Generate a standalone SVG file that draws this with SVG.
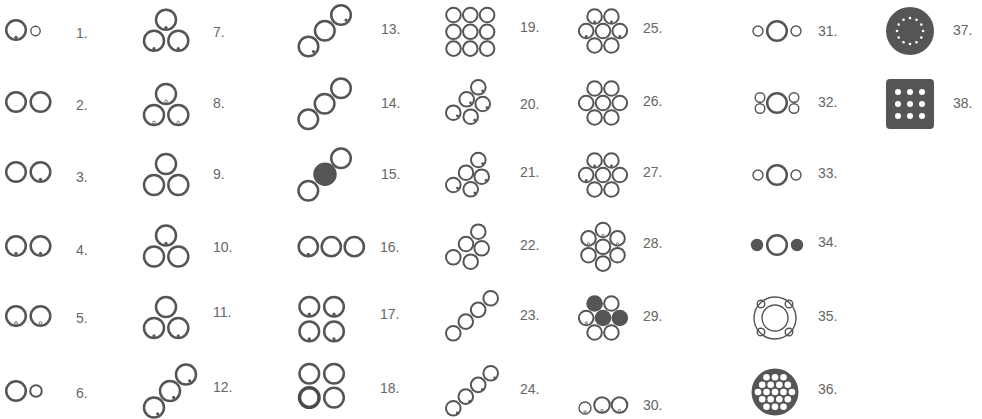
<svg xmlns="http://www.w3.org/2000/svg" width="982" height="419" viewBox="0 0 982 419">
<style>
.c{fill:none;stroke:#555;stroke-width:2.5}
.m{fill:none;stroke:#555;stroke-width:2}
.sm{fill:none;stroke:#555;stroke-width:1.4}
.d{fill:#555}
.h{fill:#fff;stroke:#555;stroke-width:0.8}
.f{fill:#555}
.w{fill:#fff}
.t{font-family:"Liberation Sans",Arial,sans-serif;font-size:14px;fill:#666}
</style>
<rect width="982" height="419" fill="#fff"/>
<g id="n1"><circle class="c" cx="16" cy="30" r="9.8"/><circle class="sm" cx="35.5" cy="31" r="4.7"/><circle class="d" cx="16" cy="37.3" r="1.6"/><text class="t" x="76" y="37.5">1.</text></g>
<g id="n2"><circle class="c" cx="16" cy="102" r="9.8"/><circle class="c" cx="40.5" cy="102" r="9.8"/><text class="t" x="76" y="110">2.</text></g>
<g id="n3"><circle class="c" cx="16" cy="172" r="9.8"/><circle class="c" cx="40.5" cy="172" r="9.8"/><circle class="d" cx="40.5" cy="179.3" r="1.6"/><text class="t" x="76" y="181.5">3.</text></g>
<g id="n4"><circle class="c" cx="16" cy="246" r="9.8"/><circle class="c" cx="40.5" cy="246" r="9.8"/><circle class="d" cx="16" cy="253.3" r="1.6"/><circle class="d" cx="40.5" cy="253.3" r="1.6"/><text class="t" x="76" y="255">4.</text></g>
<g id="n5"><circle class="c" cx="16" cy="316" r="9.8"/><circle class="c" cx="40.5" cy="316" r="9.8"/><circle class="h" cx="16" cy="323" r="1.4"/><circle class="h" cx="40.5" cy="323" r="1.4"/><text class="t" x="76" y="323">5.</text></g>
<g id="n6"><circle class="c" cx="16" cy="391" r="9.8"/><circle class="m" cx="36" cy="391" r="5.8"/><text class="t" x="76" y="398">6.</text></g>

<g id="n7"><circle class="c" cx="166" cy="19.7" r="10"/><circle class="c" cx="154" cy="40.7" r="10"/><circle class="c" cx="178.3" cy="40.7" r="10"/><circle class="d" cx="166" cy="27.6" r="1.6"/><circle class="d" cx="154" cy="48.6" r="1.6"/><circle class="d" cx="178.3" cy="48.6" r="1.6"/><text class="t" x="213" y="36.5">7.</text></g>
<g id="n8"><circle class="c" cx="166" cy="94" r="10"/><circle class="c" cx="154" cy="115" r="10"/><circle class="c" cx="178.3" cy="115" r="10"/><circle class="h" cx="166" cy="101.5" r="1.4"/><circle class="h" cx="154" cy="122.5" r="1.4"/><circle class="h" cx="178.3" cy="122.5" r="1.4"/><text class="t" x="213" y="108">8.</text></g>
<g id="n9"><circle class="c" cx="166" cy="164" r="10"/><circle class="c" cx="154" cy="185" r="10"/><circle class="c" cx="178.3" cy="185" r="10"/><text class="t" x="213" y="178.5">9.</text></g>
<g id="n10"><circle class="c" cx="166" cy="235.5" r="10"/><circle class="c" cx="154" cy="256.5" r="10"/><circle class="c" cx="178.3" cy="256.5" r="10"/><circle class="d" cx="166" cy="243.4" r="1.6"/><text class="t" x="213" y="251.5">10.</text></g>
<g id="n11"><circle class="c" cx="166" cy="307" r="10"/><circle class="c" cx="154" cy="328" r="10"/><circle class="c" cx="178.3" cy="328" r="10"/><circle class="d" cx="154" cy="335.9" r="1.6"/><circle class="d" cx="178.3" cy="335.9" r="1.6"/><text class="t" x="213" y="316.5">11.</text></g>
<g id="n12"><circle class="c" cx="154" cy="407.5" r="10"/><circle class="c" cx="170" cy="391" r="10"/><circle class="c" cx="186" cy="374.5" r="10"/><circle class="d" cx="157.7" cy="413.9" r="1.6"/><circle class="d" cx="173.7" cy="397.4" r="1.6"/><circle class="d" cx="189.7" cy="380.9" r="1.6"/><text class="t" x="213" y="391.5">12.</text></g>

<g id="n13"><circle class="c" cx="308.5" cy="46.5" r="9.8"/><circle class="c" cx="324.8" cy="30.8" r="9.8"/><circle class="c" cx="341" cy="15" r="9.8"/><circle class="d" cx="313.5" cy="51.5" r="1.6"/><circle class="d" cx="346" cy="20" r="1.6"/><text class="t" x="381" y="33.5">13.</text></g>
<g id="n14"><circle class="c" cx="308.3" cy="119.3" r="9.8"/><circle class="c" cx="324.6" cy="103.8" r="9.8"/><circle class="c" cx="341" cy="88.3" r="9.8"/><text class="t" x="381" y="107.5">14.</text></g>
<g id="n15"><circle class="c" cx="308.3" cy="190.7" r="9.8"/><circle class="f" cx="325" cy="174.3" r="11.7"/><circle class="c" cx="341" cy="158.3" r="9.8"/><text class="t" x="381" y="178.5">15.</text></g>
<g id="n16"><circle class="c" cx="308.3" cy="246.7" r="9.6"/><circle class="c" cx="331.3" cy="246.7" r="9.6"/><circle class="c" cx="354.3" cy="246.7" r="9.6"/><circle class="d" cx="308.3" cy="254.3" r="1.6"/><text class="t" x="380" y="251.5">16.</text></g>
<g id="n17"><circle class="c" cx="309.3" cy="306.7" r="9.8"/><circle class="c" cx="334" cy="306.7" r="9.8"/><circle class="c" cx="309.3" cy="331.4" r="9.8"/><circle class="c" cx="334" cy="331.4" r="9.8"/><circle class="d" cx="309.3" cy="314.2" r="1.6"/><circle class="d" cx="334" cy="314.2" r="1.6"/><circle class="d" cx="309.3" cy="338.9" r="1.6"/><circle class="d" cx="334" cy="338.9" r="1.6"/><text class="t" x="380" y="318.5">17.</text></g>
<g id="n18"><circle class="c" cx="309.3" cy="373.7" r="9.8"/><circle class="c" cx="334" cy="373.7" r="9.8"/><circle class="c" cx="309.3" cy="397.6" r="9.8" style="stroke-width:3.4;stroke:#4a4a4a"/><circle class="c" cx="334" cy="397.6" r="9.8"/><text class="t" x="380" y="392.5">18.</text></g>

<g id="n19"><circle class="m" cx="453.5" cy="15" r="7.3"/><circle class="m" cx="470.3" cy="15" r="7.3"/><circle class="m" cx="487.1" cy="15" r="7.3"/><circle class="m" cx="453.5" cy="31.8" r="7.3"/><circle class="m" cx="470.3" cy="31.8" r="7.3"/><circle class="m" cx="487.1" cy="31.8" r="7.3"/><circle class="m" cx="453.5" cy="48.6" r="7.3"/><circle class="m" cx="470.3" cy="48.6" r="7.3"/><circle class="m" cx="487.1" cy="48.6" r="7.3"/><text class="t" x="520" y="31.5">19.</text></g>
<g id="n20"><circle class="m" cx="478.3" cy="87.3" r="7.3"/><circle class="m" cx="466.7" cy="99.3" r="7.3"/><circle class="m" cx="482.7" cy="104" r="7.3"/><circle class="m" cx="453.3" cy="112.7" r="7.3"/><circle class="m" cx="470.7" cy="116.7" r="7.3"/><circle class="d" cx="482.6" cy="91" r="1.4"/><circle class="d" cx="470.5" cy="102.8" r="1.4"/><circle class="d" cx="487" cy="107.6" r="1.4"/><circle class="d" cx="457.4" cy="115.8" r="1.4"/><circle class="d" cx="474.8" cy="120.2" r="1.4"/><text class="t" x="520" y="108.5">20.</text></g>
<g id="n21"><circle class="m" cx="478.3" cy="160" r="7.3"/><circle class="m" cx="466" cy="172.7" r="7.3"/><circle class="m" cx="481.7" cy="176.7" r="7.3"/><circle class="m" cx="453.3" cy="185" r="7.3"/><circle class="m" cx="470.7" cy="189.3" r="7.3"/><circle class="d" cx="482.6" cy="163.7" r="1.4"/><circle class="d" cx="486" cy="180.3" r="1.4"/><circle class="d" cx="457.4" cy="188.1" r="1.4"/><circle class="d" cx="474.8" cy="192.8" r="1.4"/><text class="t" x="520" y="176.5">21.</text></g>
<g id="n22"><circle class="m" cx="478.3" cy="231.7" r="7.3"/><circle class="m" cx="466" cy="244" r="7.3"/><circle class="m" cx="481.7" cy="248.3" r="7.3"/><circle class="m" cx="453.3" cy="257.3" r="7.3"/><circle class="m" cx="470.7" cy="261.7" r="7.3"/><text class="t" x="520" y="250">22.</text></g>
<g id="n23"><circle class="m" cx="453.3" cy="333.3" r="7.3"/><circle class="m" cx="465.75" cy="321.6" r="7.3"/><circle class="m" cx="478.2" cy="309.9" r="7.3"/><circle class="m" cx="490.7" cy="298.3" r="7.3"/><text class="t" x="520" y="320">23.</text></g>
<g id="n24"><circle class="m" cx="453.3" cy="408.3" r="7.3"/><circle class="m" cx="465.75" cy="396.6" r="7.3"/><circle class="m" cx="478.2" cy="384.9" r="7.3"/><circle class="m" cx="490.7" cy="373.3" r="7.3"/><circle class="d" cx="457.3" cy="413" r="1.4"/><circle class="d" cx="469.7" cy="401.3" r="1.4"/><circle class="d" cx="482.2" cy="389.6" r="1.4"/><circle class="d" cx="494.7" cy="378" r="1.4"/><text class="t" x="520" y="393.5">24.</text></g>

<g id="n25"><circle class="m" cx="594.6" cy="16.5" r="7.3"/><circle class="m" cx="611.4" cy="16.5" r="7.3"/><circle class="m" cx="586.2" cy="31" r="7.3"/><circle class="m" cx="603" cy="31" r="7.3"/><circle class="m" cx="619.8" cy="31" r="7.3"/><circle class="m" cx="594.6" cy="45.5" r="7.3"/><circle class="m" cx="611.4" cy="45.5" r="7.3"/><circle class="d" cx="594.6" cy="22" r="1.4"/><circle class="d" cx="611.4" cy="22" r="1.4"/><circle class="d" cx="586.2" cy="36.5" r="1.4"/><circle class="d" cx="619.8" cy="36.5" r="1.4"/><text class="t" x="643" y="33">25.</text></g>
<g id="n26"><circle class="m" cx="594.6" cy="88.5" r="7.3"/><circle class="m" cx="611.4" cy="88.5" r="7.3"/><circle class="m" cx="586.2" cy="103" r="7.3"/><circle class="m" cx="603" cy="103" r="7.3"/><circle class="m" cx="619.8" cy="103" r="7.3"/><circle class="m" cx="594.6" cy="117.5" r="7.3"/><circle class="m" cx="611.4" cy="117.5" r="7.3"/><text class="t" x="643" y="106">26.</text></g>
<g id="n27"><circle class="m" cx="594.6" cy="160.5" r="7.3"/><circle class="m" cx="611.4" cy="160.5" r="7.3"/><circle class="m" cx="586.2" cy="175" r="7.3"/><circle class="m" cx="603" cy="175" r="7.3"/><circle class="m" cx="619.8" cy="175" r="7.3"/><circle class="m" cx="594.6" cy="189.5" r="7.3"/><circle class="m" cx="611.4" cy="189.5" r="7.3"/><circle class="d" cx="594.6" cy="166" r="1.4"/><circle class="d" cx="611.4" cy="166" r="1.4"/><circle class="d" cx="586.2" cy="180.5" r="1.4"/><text class="t" x="643" y="177">27.</text></g>
<g id="n28"><circle class="m" cx="603" cy="230" r="7.3"/><circle class="m" cx="603" cy="246.8" r="7.3"/><circle class="m" cx="603" cy="263.6" r="7.3"/><circle class="m" cx="588.5" cy="238.4" r="7.3"/><circle class="m" cx="588.5" cy="255.2" r="7.3"/><circle class="m" cx="617.5" cy="238.4" r="7.3"/><circle class="m" cx="617.5" cy="255.2" r="7.3"/><circle class="h" cx="603" cy="235.5" r="1.2"/><circle class="h" cx="588.5" cy="243.9" r="1.2"/><circle class="h" cx="617.5" cy="243.9" r="1.2"/><text class="t" x="643" y="248">28.</text></g>
<g id="n29"><circle class="f" cx="594.6" cy="303.5" r="8.3"/><circle class="m" cx="611.4" cy="303.5" r="7.3"/><circle class="m" cx="586.2" cy="318" r="7.3"/><circle class="f" cx="603" cy="318" r="8.3"/><circle class="f" cx="619.8" cy="318" r="8.3"/><circle class="m" cx="594.6" cy="332.5" r="7.3"/><circle class="m" cx="611.4" cy="332.5" r="7.3"/><circle class="h" cx="586.2" cy="323" r="1.2"/><text class="t" x="643" y="321">29.</text></g>
<g id="n30"><circle class="sm" cx="585" cy="408" r="6"/><circle class="m" cx="602" cy="405" r="7.8"/><circle class="m" cx="619.5" cy="405" r="7.8"/><circle class="h" cx="585" cy="412" r="1.2"/><circle class="h" cx="602" cy="410.5" r="1.2"/><circle class="h" cx="619.5" cy="410.5" r="1.2"/><text class="t" x="643" y="410">30.</text></g>

<g id="n31"><circle class="sm" cx="758" cy="31" r="5"/><circle class="c" cx="777" cy="31" r="9.8"/><circle class="sm" cx="796" cy="31" r="5"/><text class="t" x="818" y="36">31.</text></g>
<g id="n32"><circle class="c" cx="777" cy="103" r="9.8"/><circle class="sm" cx="760" cy="97.5" r="4.8"/><circle class="sm" cx="760" cy="108.5" r="4.8"/><circle class="sm" cx="794" cy="97.5" r="4.8"/><circle class="sm" cx="794" cy="108.5" r="4.8"/><text class="t" x="818" y="107">32.</text></g>
<g id="n33"><circle class="sm" cx="758" cy="175" r="5"/><circle class="c" cx="777" cy="175" r="9.8"/><circle class="sm" cx="796" cy="175" r="5"/><text class="t" x="818" y="178">33.</text></g>
<g id="n34"><circle class="f" cx="757" cy="245" r="6.2"/><circle class="c" cx="777" cy="245" r="9.8"/><circle class="f" cx="797" cy="245" r="6.2"/><text class="t" x="818" y="247">34.</text></g>
<g id="n35"><circle class="sm" cx="775" cy="318" r="21"/><circle class="sm" cx="775" cy="318" r="13"/><circle class="sm" cx="761" cy="304" r="3.8"/><circle class="sm" cx="789" cy="304" r="3.8"/><circle class="sm" cx="761" cy="332" r="3.8"/><circle class="sm" cx="789" cy="332" r="3.8"/><text class="t" x="818" y="321">35.</text></g>
<g id="n36"><circle class="f" cx="775" cy="392" r="23.5"/>
<circle class="w" cx="766.5" cy="377.3" r="3.3"/><circle class="w" cx="775" cy="377.3" r="3.3"/><circle class="w" cx="783.5" cy="377.3" r="3.3"/>
<circle class="w" cx="762.2" cy="384.7" r="3.3"/><circle class="w" cx="770.7" cy="384.7" r="3.3"/><circle class="w" cx="779.3" cy="384.7" r="3.3"/><circle class="w" cx="787.8" cy="384.7" r="3.3"/>
<circle class="w" cx="758" cy="392" r="3.3"/><circle class="w" cx="766.5" cy="392" r="3.3"/><circle class="w" cx="775" cy="392" r="3.3"/><circle class="w" cx="783.5" cy="392" r="3.3"/><circle class="w" cx="792" cy="392" r="3.3"/>
<circle class="w" cx="762.2" cy="399.3" r="3.3"/><circle class="w" cx="770.7" cy="399.3" r="3.3"/><circle class="w" cx="779.3" cy="399.3" r="3.3"/><circle class="w" cx="787.8" cy="399.3" r="3.3"/>
<circle class="w" cx="766.5" cy="406.7" r="3.3"/><circle class="w" cx="775" cy="406.7" r="3.3"/><circle class="w" cx="783.5" cy="406.7" r="3.3"/>
<text class="t" x="818" y="394">36.</text></g>

<g id="n37"><circle class="f" cx="910" cy="31" r="24"/>
<circle class="w" cx="910" cy="18" r="1.3"/><circle class="w" cx="916.5" cy="19.7" r="1.3"/><circle class="w" cx="921.3" cy="24.5" r="1.3"/><circle class="w" cx="923" cy="31" r="1.3"/><circle class="w" cx="921.3" cy="37.5" r="1.3"/><circle class="w" cx="916.5" cy="42.3" r="1.3"/><circle class="w" cx="910" cy="44" r="1.3"/><circle class="w" cx="903.5" cy="42.3" r="1.3"/><circle class="w" cx="898.7" cy="37.5" r="1.3"/><circle class="w" cx="897" cy="31" r="1.3"/><circle class="w" cx="898.7" cy="24.5" r="1.3"/><circle class="w" cx="903.5" cy="19.7" r="1.3"/>
<text class="t" x="953" y="35">37.</text></g>
<g id="n38"><rect class="f" x="886" y="79" width="48" height="50" rx="4"/>
<circle class="w" cx="898" cy="92" r="3"/><circle class="w" cx="910" cy="92" r="3"/><circle class="w" cx="922" cy="92" r="3"/><circle class="w" cx="898" cy="104" r="3"/><circle class="w" cx="910" cy="104" r="3"/><circle class="w" cx="922" cy="104" r="3"/><circle class="w" cx="898" cy="116" r="3"/><circle class="w" cx="910" cy="116" r="3"/><circle class="w" cx="922" cy="116" r="3"/>
<text class="t" x="953" y="108">38.</text></g>
<g id="connectors"/>
</svg>
